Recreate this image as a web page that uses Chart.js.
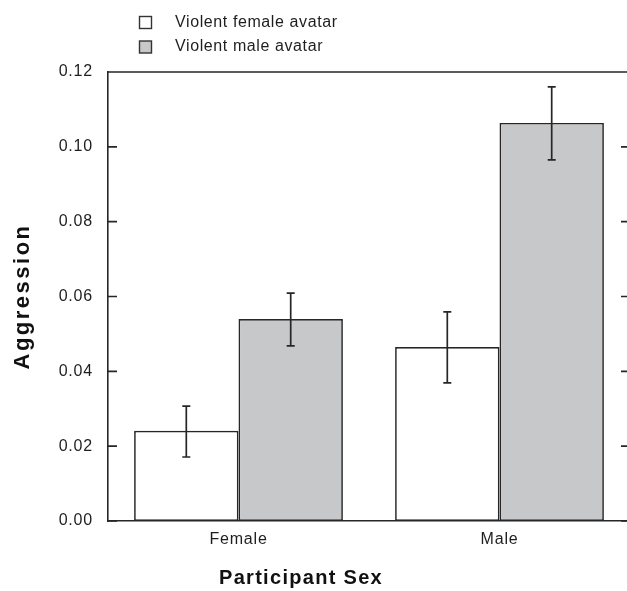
<!DOCTYPE html>
<html lang="en">
<head>
<meta charset="UTF-8" />
<title>Aggression by Participant Sex</title>
<script src="https://cdn.jsdelivr.net/npm/chart.js"></script>
<style>
  html, body {
    margin: 0;
    padding: 0;
    overflow: hidden;
    background: #fff;
  }
  canvas { display: block; }
</style>
</head>
<body>

<canvas id="chart" width="631" height="591"></canvas>

<script>
  // data
  const categories = ['Female', 'Male'];
  const seriesNames = ['Violent female avatar', 'Violent male avatar'];
  const femaleAvatar = [0.0241, 0.0465];
  const maleAvatar = [0.0540, 0.1064];
  const femaleAvatarLow = [0.0171, 0.0369];
  const femaleAvatarHigh = [0.0307, 0.0559];
  const maleAvatarLow = [0.0468, 0.0965];
  const maleAvatarHigh = [0.0609, 0.1160];
  const yTicks = [0, 0.02, 0.04, 0.06, 0.08, 0.10, 0.12];
  const xTitle = 'Participant Sex';
  const yTitle = 'Aggression';

  const errorBars = [
    { low: femaleAvatarLow, high: femaleAvatarHigh },
    { low: maleAvatarLow, high: maleAvatarHigh }
  ];

  const ink = '#262626';
  const fillColors = ['#ffffff', '#c7c8ca'];
  const fontFamily = '"Liberation Sans", Arial, sans-serif';

  // letter spacing so text widths look like the original
  const spacingPlugin = {
    id: 'spacing',
    beforeDraw(chart) {
      chart.ctx.letterSpacing = '0.8px';
    }
  };

  // error bars for each bar
  const errorBarPlugin = {
    id: 'errorBars',
    afterDatasetsDraw(chart) {
      const ctx = chart.ctx;
      const y = chart.scales.y;
      ctx.save();
      ctx.strokeStyle = ink;
      ctx.lineWidth = 1.7;
      chart.data.datasets.forEach((ds, i) => {
        const meta = chart.getDatasetMeta(i);
        meta.data.forEach((bar, j) => {
          const yLow = y.getPixelForValue(errorBars[i].low[j]);
          const yHigh = y.getPixelForValue(errorBars[i].high[j]);
          const cap = 4;
          ctx.beginPath();
          ctx.moveTo(bar.x, yLow);
          ctx.lineTo(bar.x, yHigh);
          ctx.moveTo(bar.x - cap, yLow);
          ctx.lineTo(bar.x + cap, yLow);
          ctx.moveTo(bar.x - cap, yHigh);
          ctx.lineTo(bar.x + cap, yHigh);
          ctx.stroke();
        });
      });
      ctx.restore();
    }
  };

  // top frame line, inside ticks on the left, small ticks on the right, axis titles
  const framePlugin = {
    id: 'frame',
    afterDraw(chart) {
      const ctx = chart.ctx;
      const area = chart.chartArea;
      const y = chart.scales.y;
      ctx.save();
      ctx.strokeStyle = ink;
      ctx.lineWidth = 1.6;
      ctx.beginPath();
      ctx.moveTo(area.left, area.top);
      ctx.lineTo(area.right - 8, area.top);
      y.ticks.forEach(t => {
        const py = y.getPixelForValue(t.value);
        ctx.moveTo(area.left, py);
        ctx.lineTo(area.left + 9, py);
        ctx.moveTo(area.right - 9, py);
        ctx.lineTo(area.right - 3, py);
      });
      ctx.stroke();

      ctx.fillStyle = '#111';
      ctx.textAlign = 'center';
      ctx.textBaseline = 'middle';
      ctx.font = 'bold 20px ' + fontFamily;
      ctx.letterSpacing = '1.3px';
      ctx.fillText(xTitle, 301, 578);

      ctx.translate(23, (area.top + area.bottom) / 2);
      ctx.rotate(-Math.PI / 2);
      ctx.font = 'bold 22px ' + fontFamily;
      ctx.letterSpacing = '2.5px';
      ctx.fillText(yTitle, 0, 0);
      ctx.restore();
    }
  };

  // legend in the top left corner
  const legendPlugin = {
    id: 'cornerLegend',
    afterDraw(chart) {
      const ctx = chart.ctx;
      ctx.save();
      ctx.letterSpacing = '0.6px';
      ctx.font = '16px ' + fontFamily;
      ctx.textBaseline = 'middle';
      chart.data.datasets.forEach((ds, i) => {
        const rowY = 22.5 + i * 24.5;
        ctx.fillStyle = ds.backgroundColor;
        ctx.fillRect(139.5, rowY - 6, 12, 12);
        ctx.strokeStyle = '#333';
        ctx.lineWidth = 1.4;
        ctx.strokeRect(139.5, rowY - 6, 12, 12);
        ctx.fillStyle = '#1e1e1e';
        ctx.fillText(ds.label, 175, rowY);
      });
      ctx.restore();
    }
  };

  const ctx = document.getElementById('chart').getContext('2d');

  new Chart(ctx, {
    type: 'bar',
    data: {
      labels: categories,
      datasets: [
        {
          label: seriesNames[0],
          data: femaleAvatar,
          backgroundColor: fillColors[0],
          borderColor: ink,
          borderWidth: 1.7,
          borderSkipped: false,
          categoryPercentage: 0.8,
          barPercentage: 1.0
        },
        {
          label: seriesNames[1],
          data: maleAvatar,
          backgroundColor: fillColors[1],
          borderColor: ink,
          borderWidth: 1.7,
          borderSkipped: false,
          categoryPercentage: 0.8,
          barPercentage: 1.0
        }
      ]
    },
    options: {
      responsive: false,
      animation: false,
      layout: {
        padding: { top: 72, right: 1, bottom: 0, left: 0 }
      },
      plugins: {
        legend: { display: false },
        tooltip: { enabled: false }
      },
      scales: {
        x: {
          grid: { display: false, drawTicks: false },
          border: { display: true, color: ink, width: 1.6 },
          ticks: {
            color: '#1e1e1e',
            padding: 9,
            font: { family: fontFamily, size: 16 }
          },
          afterFit(scale) { scale.height = 70; }
        },
        y: {
          min: 0,
          max: 0.12,
          afterBuildTicks(scale) {
            scale.ticks = yTicks.map(v => ({ value: v }));
          },
          grid: { display: false, drawTicks: false },
          border: { display: true, color: ink, width: 1.6 },
          ticks: {
            color: '#1e1e1e',
            padding: 15,
            font: { family: fontFamily, size: 16 },
            callback: v => Number(v).toFixed(2)
          },
          afterFit(scale) { scale.width = 108; }
        }
      }
    },
    plugins: [spacingPlugin, errorBarPlugin, framePlugin, legendPlugin]
  });
</script>

</body>
</html>
